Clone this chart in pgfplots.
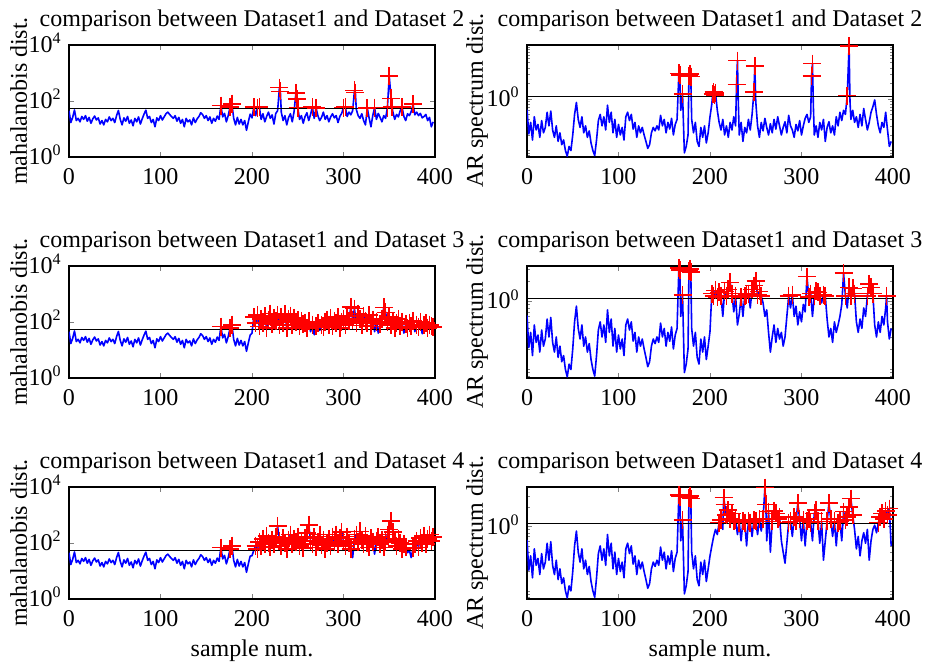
\documentclass[border=0pt]{standalone}
\usepackage{fontspec}
\setmainfont{Liberation Serif}
\usepackage{pgfplots}
\usepackage{pgfplotstable}
\pgfplotsset{compat=1.18}

% mahalanobis distance, samples 0-199 (same in every row)
\pgfplotstableread[row sep=\\]{x y\\
0 45\\2 17\\4 26\\6 48\\8 20\\10 24\\12 18\\14 28\\16 22\\18 30\\20 19\\22 26\\24 16\\26 23\\28 29\\30 21\\32 25\\34 15\\36 20\\38 14\\
40 22\\42 18\\44 27\\46 20\\48 24\\50 17\\52 30\\54 46\\56 22\\58 14\\60 25\\62 19\\64 28\\66 16\\68 21\\70 13\\72 24\\74 18\\76 27\\78 15\\
80 23\\82 34\\84 47\\86 24\\88 28\\90 17\\92 22\\94 12\\96 25\\98 20\\100 30\\102 21\\104 27\\106 35\\108 40\\110 33\\112 28\\114 24\\116 30\\118 19\\
120 26\\122 16\\124 22\\126 12\\128 24\\130 18\\132 21\\134 14\\136 25\\138 17\\140 23\\142 28\\144 38\\146 33\\148 24\\150 30\\152 20\\154 27\\156 16\\158 24\\
160 19\\162 29\\164 22\\166 68\\168 27\\170 36\\172 18\\174 30\\176 60\\178 80\\180 24\\182 14\\184 26\\186 15\\188 22\\190 14\\192 20\\194 9\\196 18\\198 34\\
}\LA
\pgfplotstableread[row sep=\\]{x y\\
200 25\\202 60\\204 30\\206 58\\208 62\\210 22\\212 35\\214 18\\216 28\\218 40\\220 24\\222 32\\224 15\\226 36\\228 45\\230 300\\231 220\\232 40\\234 20\\236 30\\
238 14\\240 26\\242 35\\244 18\\246 42\\248 195\\249 120\\250 58\\252 22\\254 30\\256 16\\258 28\\260 38\\262 20\\264 33\\266 60\\268 24\\270 57\\272 30\\274 20\\
276 26\\278 40\\280 22\\282 30\\284 18\\286 27\\288 35\\290 25\\292 30\\294 17\\296 28\\298 36\\300 58\\302 60\\304 28\\306 40\\308 32\\310 45\\312 240\\313 200\\
314 50\\316 30\\318 24\\320 35\\322 20\\324 14\\326 56\\328 25\\330 12\\332 30\\334 58\\336 22\\338 36\\340 26\\342 18\\344 30\\346 24\\348 58\\350 780\\352 123\\
353 62\\354 40\\356 22\\358 33\\360 27\\362 45\\364 60\\366 28\\368 20\\370 35\\372 30\\374 42\\376 77\\378 32\\380 40\\382 30\\384 36\\386 25\\388 28\\390 33\\
392 20\\394 26\\396 12\\398 18\\
}\LoneB
\pgfplotstableread[row sep=\\]{x y\\
200 40\\202 150\\204 90\\206 180\\208 70\\210 130\\212 95\\214 160\\216 60\\218 120\\220 200\\222 85\\224 140\\226 110\\228 180\\230 75\\232 150\\234 95\\236 190\\238 60\\
240 130\\242 170\\244 80\\246 140\\248 100\\250 120\\252 70\\254 110\\256 85\\258 95\\260 60\\262 105\\264 45\\266 80\\268 35\\270 70\\272 90\\274 50\\276 75\\278 65\\
280 100\\282 120\\284 80\\286 140\\288 70\\290 110\\292 90\\294 150\\296 60\\298 100\\300 130\\302 80\\304 160\\306 110\\308 350\\310 120\\312 300\\314 90\\316 200\\318 130\\
320 75\\322 160\\324 110\\326 90\\328 180\\330 70\\332 120\\334 45\\336 100\\338 40\\340 85\\342 130\\344 330\\346 220\\348 100\\350 150\\352 75\\354 110\\356 60\\358 90\\
360 130\\362 70\\364 100\\366 40\\368 85\\370 60\\372 95\\374 70\\376 110\\378 45\\380 80\\382 65\\384 100\\386 38\\388 75\\390 90\\392 60\\394 80\\396 70\\398 65\\
}\LtwoB
\pgfplotstableread[row sep=\\]{x y\\
200 35\\202 55\\204 80\\206 60\\208 110\\210 75\\212 140\\214 90\\216 180\\218 100\\220 70\\222 130\\224 95\\226 160\\228 400\\230 120\\232 80\\234 150\\236 100\\238 60\\
240 130\\242 200\\244 90\\246 140\\248 110\\250 170\\252 80\\254 120\\256 65\\258 150\\260 230\\262 450\\264 120\\266 90\\268 160\\270 70\\272 110\\274 200\\276 85\\278 130\\
280 60\\282 100\\284 140\\286 80\\288 170\\290 110\\292 200\\294 90\\296 150\\298 250\\300 120\\302 80\\304 170\\306 100\\308 60\\310 30\\312 140\\314 200\\316 110\\318 260\\
320 130\\322 90\\324 180\\326 100\\328 70\\330 150\\332 110\\334 40\\336 120\\338 160\\340 90\\342 130\\344 70\\346 110\\348 200\\350 300\\352 600\\354 250\\356 120\\358 80\\
360 140\\362 100\\364 60\\366 90\\368 70\\370 45\\372 55\\374 30\\376 65\\378 90\\380 120\\382 70\\384 150\\386 100\\388 180\\390 90\\392 140\\394 200\\396 120\\398 160\\
}\LthreeB

% AR spectrum distance, samples 0-199 (same in every row)
\pgfplotstableread[row sep=\\]{x y\\
0 0.62\\2 0.21\\4 0.35\\6 0.16\\8 0.45\\10 0.25\\12 0.32\\14 0.18\\16 0.38\\18 0.22\\20 0.28\\22 0.55\\24 0.30\\26 0.58\\28 0.25\\30 0.18\\32 0.30\\34 0.15\\36 0.22\\38 0.13\\
40 0.16\\42 0.10\\44 0.078\\46 0.12\\48 0.10\\50 0.20\\52 0.50\\54 0.85\\56 0.40\\58 0.28\\60 0.45\\62 0.22\\64 0.30\\66 0.18\\68 0.24\\70 0.14\\72 0.10\\74 0.08\\76 0.16\\78 0.38\\
80 0.50\\82 0.30\\84 0.45\\86 0.25\\88 0.75\\90 0.35\\92 0.55\\94 0.22\\96 0.40\\98 0.18\\100 0.32\\102 0.20\\104 0.28\\106 0.16\\108 0.45\\110 0.55\\112 0.38\\114 0.50\\116 0.26\\118 0.35\\
120 0.18\\122 0.30\\124 0.22\\126 0.28\\128 0.20\\130 0.15\\132 0.11\\134 0.13\\136 0.22\\138 0.28\\140 0.24\\142 0.30\\144 0.25\\146 0.48\\148 0.30\\150 0.40\\152 0.22\\154 0.35\\156 0.26\\158 0.42\\
160 0.20\\162 0.32\\164 0.40\\166 3.1\\167 2.9\\168 0.60\\170 1.25\\172 0.09\\174 0.12\\176 0.20\\177 2.8\\178 3.0\\179 2.7\\180 0.40\\182 0.22\\184 0.35\\186 0.15\\188 0.12\\190 0.28\\192 0.18\\
194 0.30\\196 0.14\\198 0.22\\
}\RA
\pgfplotstableread[row sep=\\]{x y\\
200 0.45\\202 0.80\\203 1.25\\204 1.35\\205 1.2\\206 1.3\\208 0.60\\210 0.35\\212 0.25\\214 0.40\\216 0.20\\218 0.30\\220 0.18\\222 0.35\\224 0.25\\226 0.45\\228 0.30\\229 1.9\\230 5.5\\231 0.8\\
232 0.20\\234 0.35\\236 0.15\\238 0.28\\240 0.22\\242 0.40\\244 0.25\\246 0.50\\248 1.35\\249 4.3\\250 0.9\\252 0.30\\254 0.18\\256 0.35\\258 0.24\\260 0.42\\262 0.28\\264 0.20\\266 0.33\\268 0.22\\
270 0.40\\272 0.26\\274 0.45\\276 0.30\\278 0.20\\280 0.28\\282 0.36\\284 0.22\\286 0.48\\288 0.30\\290 0.25\\292 0.18\\294 0.32\\296 0.24\\298 0.38\\300 0.20\\302 0.30\\304 0.42\\306 0.50\\308 0.35\\
310 0.45\\311 2.8\\312 4.8\\313 0.7\\314 0.20\\316 0.30\\318 0.18\\320 0.35\\322 0.25\\324 0.40\\326 0.15\\328 0.28\\330 0.36\\332 0.22\\334 0.30\\336 0.20\\338 0.45\\340 0.30\\342 0.55\\344 0.38\\
346 0.60\\348 0.50\\350 1.15\\352 10.5\\353 0.9\\354 0.40\\356 0.60\\358 0.35\\360 0.45\\362 0.28\\364 0.50\\366 0.30\\368 0.65\\370 0.40\\372 0.25\\374 0.35\\376 0.55\\378 0.70\\380 0.95\\382 0.50\\
384 0.30\\386 0.22\\388 0.35\\390 0.28\\392 0.55\\394 0.25\\396 0.12\\398 0.15\\
}\RoneB
\pgfplotstableread[row sep=\\]{x y\\
200 0.36\\201 0.70\\202 1.3\\204 1.2\\206 1.45\\208 1.15\\210 1.35\\212 1.2\\214 0.6\\216 1.4\\218 1.2\\220 1.5\\222 1.9\\224 1.3\\226 0.7\\228 1.2\\230 0.45\\232 0.65\\234 1.15\\236 0.6\\
238 1.2\\240 1.25\\242 1.3\\244 0.8\\246 1.5\\248 1.7\\250 2.0\\252 1.25\\254 1.4\\256 1.2\\258 0.95\\260 0.6\\262 0.75\\264 0.35\\266 0.18\\268 0.3\\270 0.45\\272 0.25\\274 0.4\\276 0.28\\
278 0.35\\280 0.22\\282 0.3\\284 0.6\\286 1.2\\288 0.8\\290 1.25\\292 0.6\\294 0.85\\296 0.45\\298 0.7\\300 0.5\\302 0.9\\304 0.7\\306 2.3\\308 1.15\\310 1.3\\312 0.6\\314 1.2\\316 1.4\\
318 1.35\\320 1.2\\322 0.95\\324 1.25\\326 1.2\\328 0.55\\330 0.3\\332 0.4\\334 0.25\\336 0.5\\338 0.35\\340 0.45\\342 0.6\\344 0.9\\346 2.6\\348 1.2\\350 0.8\\352 1.6\\354 1.2\\356 1.55\\
358 1.3\\360 0.5\\362 0.35\\364 0.55\\366 0.4\\368 0.8\\370 0.6\\372 1.2\\374 1.8\\376 1.6\\378 1.3\\380 0.45\\382 0.3\\384 0.5\\386 0.35\\388 0.6\\390 0.45\\392 0.8\\393 1.2\\394 0.5\\
396 0.28\\398 0.4\\
}\RtwoB
\pgfplotstableread[row sep=\\]{x y\\
200 0.35\\202 0.5\\204 0.7\\206 0.9\\208 0.75\\210 1.15\\212 1.25\\214 0.9\\215 2.8\\216 2.2\\218 1.5\\220 1.8\\222 1.3\\224 1.6\\226 1.2\\228 1.26\\230 0.75\\232 1.15\\234 0.6\\236 1.2\\
238 1.15\\240 0.5\\242 1.2\\244 1.15\\246 0.7\\248 1.25\\250 1.2\\252 0.75\\254 1.3\\256 0.85\\258 1.3\\260 4.0\\261 2.2\\262 0.6\\264 1.7\\266 0.4\\268 1.2\\270 1.75\\272 1.6\\274 1.3\\
276 1.4\\278 0.6\\280 0.4\\282 0.27\\284 0.55\\286 1.15\\288 1.2\\290 0.7\\292 1.4\\294 1.2\\296 2.3\\298 1.3\\300 0.6\\302 1.25\\304 0.5\\306 1.2\\308 1.3\\310 1.15\\312 0.6\\314 1.6\\
316 1.8\\318 1.2\\320 0.55\\322 1.2\\324 0.3\\326 0.6\\328 1.2\\330 2.3\\332 1.3\\334 0.7\\336 1.2\\338 0.5\\340 1.15\\342 1.2\\344 0.6\\346 1.7\\348 1.25\\350 1.4\\352 2.0\\354 2.7\\
356 1.5\\358 0.9\\360 0.45\\362 0.7\\364 0.35\\366 0.6\\368 0.8\\370 0.55\\372 0.9\\374 0.3\\376 0.6\\378 0.9\\380 1.05\\382 0.8\\384 1.15\\386 1.4\\388 1.6\\390 1.3\\392 1.75\\394 1.5\\
396 1.9\\398 0.5\\
}\RthreeB

\pgfplotstablevertcat{\Lone}{\LA}\pgfplotstablevertcat{\Lone}{\LoneB}
\pgfplotstablevertcat{\Ltwo}{\LA}\pgfplotstablevertcat{\Ltwo}{\LtwoB}
\pgfplotstablevertcat{\Lthree}{\LA}\pgfplotstablevertcat{\Lthree}{\LthreeB}
\pgfplotstablevertcat{\Rone}{\RA}\pgfplotstablevertcat{\Rone}{\RoneB}
\pgfplotstablevertcat{\Rtwo}{\RA}\pgfplotstablevertcat{\Rtwo}{\RtwoB}
\pgfplotstablevertcat{\Rthree}{\RA}\pgfplotstablevertcat{\Rthree}{\RthreeB}

% settings shared by all six panels
\pgfplotsset{every axis/.append style={
    scale only axis, width=183pt, height=56pt,
    xmin=0, xmax=400, xtick={0,100,200,300,400}, xticklabels={0,100,200,300,400},
    tick align=inside,
    major tick length=2.5pt, minor tick length=1.5pt,
    axis line style={line width=0.8pt},
    title style={at={(0.5,1)}, anchor=base, yshift=3.2pt, inner sep=0pt},
    xticklabel style={anchor=base, yshift=-14pt, inner sep=0pt},
    yticklabel style={anchor=base east, inner sep=0pt, xshift=-3.5pt, yshift=-3.8pt},
    ylabel style={anchor=base, inner sep=0pt},
    xlabel style={at={(axis description cs:0.5,0)}, anchor=base, yshift=-28.9pt, inner sep=0pt},
}}

\begin{document}
\fontsize{12}{14}\selectfont
\begin{tikzpicture}[font=\fontsize{12}{14}\selectfont]
\path[use as bounding box] (0,0) rectangle (464pt,332pt);

% row 1
\begin{axis}[ymode=log, ymin=1, ymax=10000, ytick={1,100,10000},
  yticklabels={10\textsuperscript{0},10\textsuperscript{2},10\textsuperscript{4}},
  yminorticks=false, ylabel={mahalanobis dist.},
  ylabel style={at={(axis description cs:-0.1148,0.5)}},
  at={(34.5pt,253.5pt)}, anchor=south west,
  title={comparison between Dataset1 and Dataset 2}]
\addplot[blue, line width=0.8pt, line join=round, no marks] table {\Lone};
\addplot[black, line width=0.6pt, no marks] coordinates {(0,55) (400,55)};
\addplot[red, only marks, mark=+, mark size=4.5pt, line width=0.8pt, mark options={draw=red}]
  table[y expr={\thisrow{y}>55 ? \thisrow{y} : nan}] {\Lone};
\end{axis}
\begin{axis}[ymode=log, ymin=0.075, ymax=11, ytick={1}, yticklabels={10\textsuperscript{0}},
  minor ytick={0.08,0.09,0.1,0.2,0.3,0.4,0.5,0.6,0.7,0.8,0.9,2,3,4,5,6,7,8,9,10},
  ylabel={AR spectrum dist.},
  ylabel style={at={(axis description cs:-0.1205,0.5)}},
  at={(263.5pt,253.5pt)}, anchor=south west,
  title={comparison between Dataset1 and Dataset 2}]
\addplot[blue, line width=0.8pt, line join=round, no marks] table {\Rone};
\addplot[black, line width=0.6pt, no marks] coordinates {(0,1.1) (400,1.1)};
\addplot[red, only marks, mark=+, mark size=4.5pt, line width=0.8pt, mark options={draw=red}]
  table[y expr={\thisrow{y}>1.1 ? \thisrow{y} : nan}] {\Rone};
\end{axis}

% row 2
\begin{axis}[ymode=log, ymin=1, ymax=10000, ytick={1,100,10000},
  yticklabels={10\textsuperscript{0},10\textsuperscript{2},10\textsuperscript{4}},
  yminorticks=false, ylabel={mahalanobis dist.},
  ylabel style={at={(axis description cs:-0.1148,0.5)}},
  at={(34.5pt,143pt)}, anchor=south west,
  title={comparison between Dataset1 and Dataset 3}]
\addplot[blue, line width=0.8pt, line join=round, no marks] table {\Ltwo};
\addplot[black, line width=0.6pt, no marks] coordinates {(0,55) (400,55)};
\addplot[red, only marks, mark=+, mark size=4.5pt, line width=0.8pt, mark options={draw=red}]
  table[y expr={\thisrow{y}>55 ? \thisrow{y} : nan}] {\Ltwo};
\end{axis}
\begin{axis}[ymode=log, ymin=0.075, ymax=3.3, ytick={1}, yticklabels={10\textsuperscript{0}},
  minor ytick={0.08,0.09,0.1,0.2,0.3,0.4,0.5,0.6,0.7,0.8,0.9,2,3,4,5,6,7,8,9,10},
  ylabel={AR spectrum dist.},
  ylabel style={at={(axis description cs:-0.1205,0.5)}},
  at={(263.5pt,143pt)}, anchor=south west,
  title={comparison between Dataset1 and Dataset 3}]
\addplot[blue, line width=0.8pt, line join=round, no marks] table {\Rtwo};
\addplot[black, line width=0.6pt, no marks] coordinates {(0,1.1) (400,1.1)};
\addplot[red, only marks, mark=+, mark size=4.5pt, line width=0.8pt, mark options={draw=red}]
  table[y expr={\thisrow{y}>1.1 ? \thisrow{y} : nan}] {\Rtwo};
\end{axis}

% row 3
\begin{axis}[ymode=log, ymin=1, ymax=10000, ytick={1,100,10000},
  yticklabels={10\textsuperscript{0},10\textsuperscript{2},10\textsuperscript{4}},
  yminorticks=false, ylabel={mahalanobis dist.}, xlabel={sample num.},
  ylabel style={at={(axis description cs:-0.1148,0.5)}},
  at={(34.5pt,32.5pt)}, anchor=south west,
  title={comparison between Dataset1 and Dataset 4}]
\addplot[blue, line width=0.8pt, line join=round, no marks] table {\Lthree};
\addplot[black, line width=0.6pt, no marks] coordinates {(0,55) (400,55)};
\addplot[red, only marks, mark=+, mark size=4.5pt, line width=0.8pt, mark options={draw=red}]
  table[y expr={\thisrow{y}>55 ? \thisrow{y} : nan}] {\Lthree};
\end{axis}
\begin{axis}[ymode=log, ymin=0.075, ymax=4.1, ytick={1}, yticklabels={10\textsuperscript{0}},
  minor ytick={0.08,0.09,0.1,0.2,0.3,0.4,0.5,0.6,0.7,0.8,0.9,2,3,4,5,6,7,8,9,10},
  ylabel={AR spectrum dist.}, xlabel={sample num.},
  ylabel style={at={(axis description cs:-0.1205,0.5)}},
  at={(263.5pt,32.5pt)}, anchor=south west,
  title={comparison between Dataset1 and Dataset 4}]
\addplot[blue, line width=0.8pt, line join=round, no marks] table {\Rthree};
\addplot[black, line width=0.6pt, no marks] coordinates {(0,1.1) (400,1.1)};
\addplot[red, only marks, mark=+, mark size=4.5pt, line width=0.8pt, mark options={draw=red}]
  table[y expr={\thisrow{y}>1.1 ? \thisrow{y} : nan}] {\Rthree};
\end{axis}
\end{tikzpicture}
\end{document}
